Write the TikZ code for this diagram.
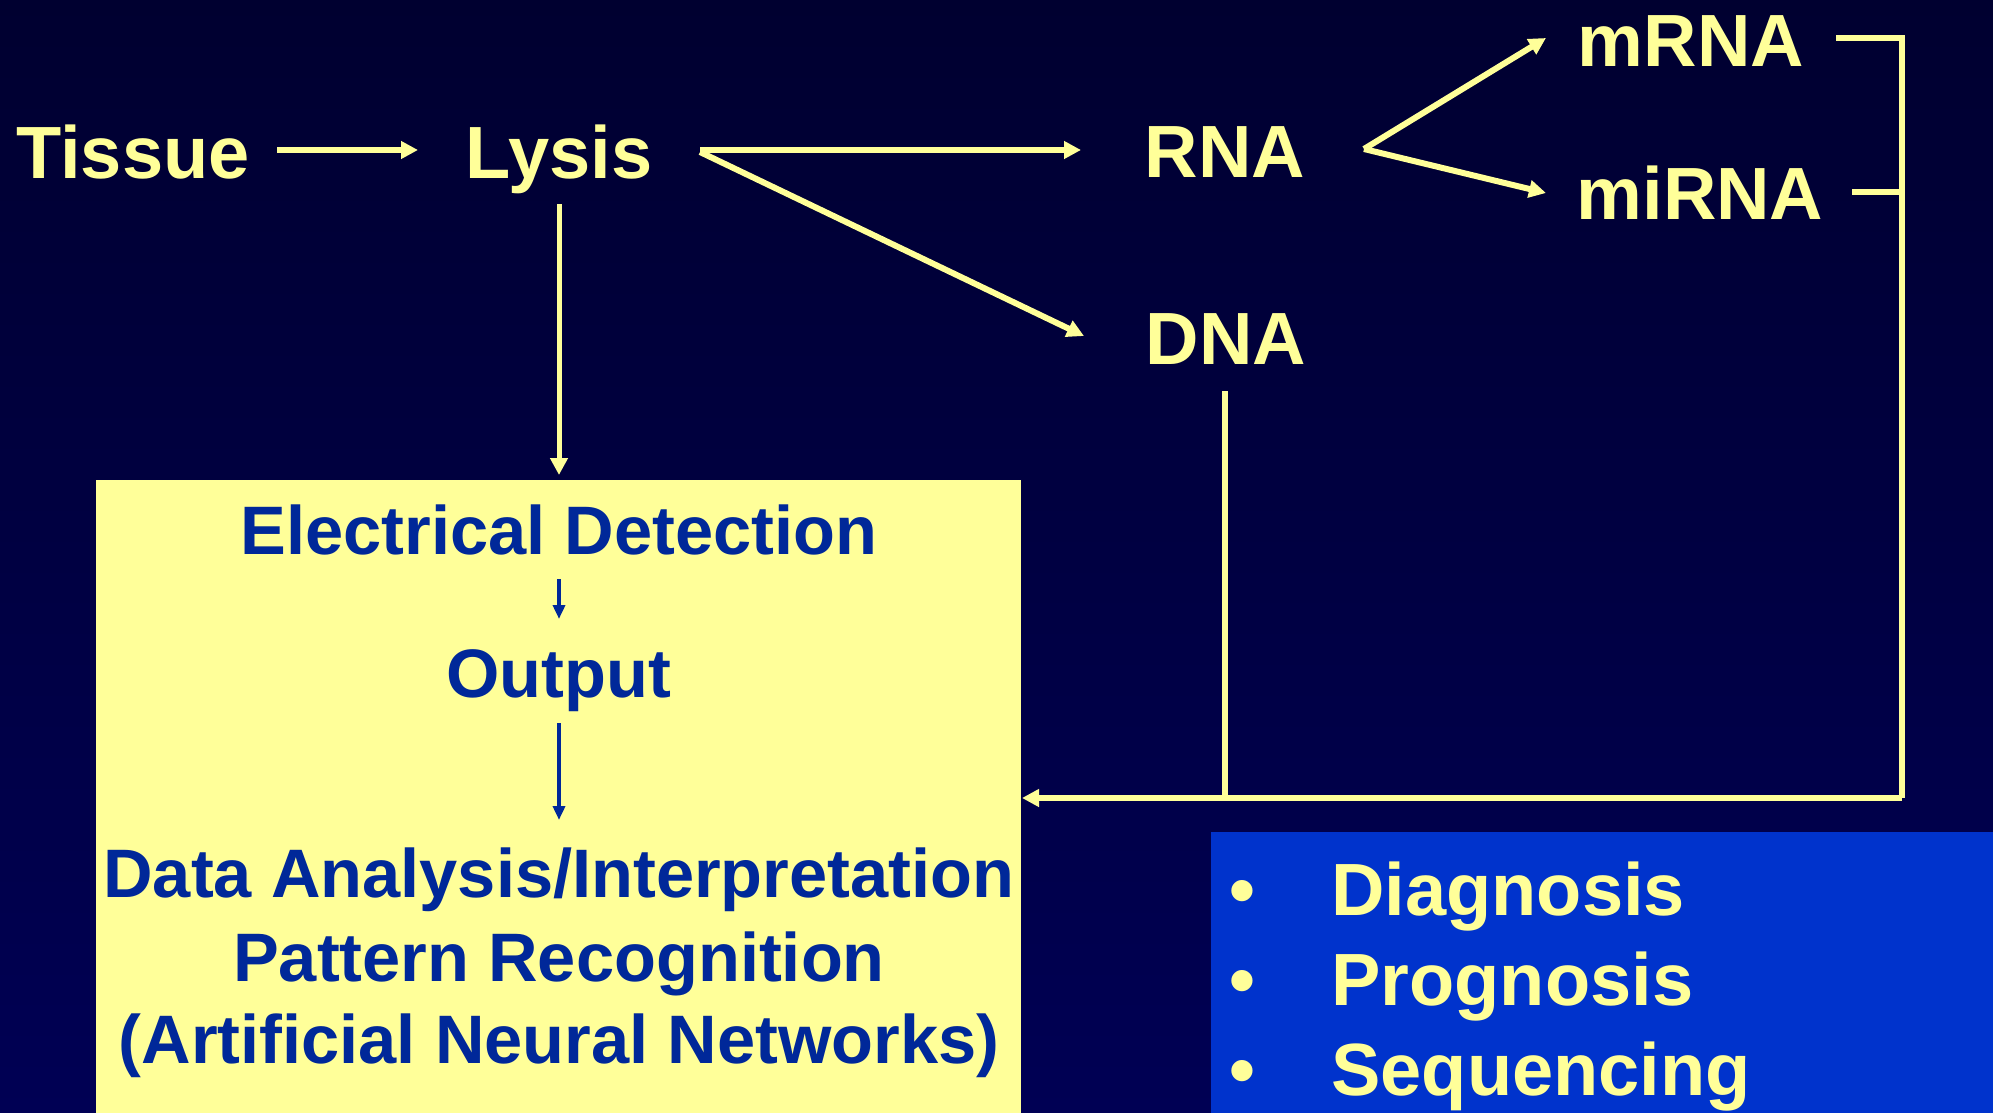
\documentclass[tikz,border=0pt]{standalone}
\usepackage{fontspec}
\setmainfont{Liberation Sans}
\usetikzlibrary{arrows.meta}
\definecolor{bgtop}{RGB}{0,0,48}
\definecolor{bgbot}{RGB}{0,0,84}
\definecolor{lyellow}{RGB}{255,255,153}
\definecolor{dblue}{RGB}{0,40,153}
\definecolor{bbox}{RGB}{0,51,204}
\tikzset{
  lbl/.style={text=lyellow, font=\fontsize{37}{44}\selectfont\bfseries, anchor=base, inner sep=0pt},
  boxtxt/.style={text=dblue, font=\fontsize{34.3}{40}\selectfont\bfseries, anchor=base, inner sep=0pt},
  bul/.style={text=lyellow, font=\fontsize{37}{44}\selectfont\bfseries, anchor=base west, inner sep=0pt},
  yline/.style={draw=lyellow, line width=3pt},
  yarrow/.style={yline, -{Triangle[length=8.5pt,width=8.5pt]}},
  barrow/.style={draw=dblue, line width=2pt, -{Triangle[length=7pt,width=6pt]}},
}
\begin{document}
\begin{tikzpicture}[x=0.5pt,y=-0.5pt]
\useasboundingbox (0,0) rectangle (1993,1113);
\shade[top color=bgtop, bottom color=bgbot] (0,0) rectangle (1993,1113);
% boxes
\fill[lyellow] (96,480) rectangle (1021,1113);
\fill[bbox] (1211,832) rectangle (1993,1113);
% top labels
\node[lbl] (tissue) at (133,178) {Tissue};
\node[lbl] (lysis) at (559,178) {Lysis};
\node[lbl] (rna) at (1225,177) {RNA};
\node[lbl] (dna) at (1226,364) {DNA};
\node[lbl] (mrna) at (1691,67) {mRNA};
\node[lbl] (mirna) at (1700,220) {miRNA};
% box texts
\node[boxtxt] (elec) at (559,554) {Electrical Detection};
\node[boxtxt] (output) at (559,697) {Output};
\node[boxtxt] (data) at (559,897) {Data Analysis/Interpretation};
\node[boxtxt] (pattern) at (559,981) {Pattern Recognition};
\node[boxtxt] (ann) at (559,1063) {(Artificial Neural Networks)};
% bullets
\node[bul] (b1) at (1229,915) {•};
\node[bul] (diag) at (1331,915) {Diagnosis};
\node[bul] (b2) at (1229,1005) {•};
\node[bul] (prog) at (1331,1005) {Prognosis};
\node[bul] (b3) at (1229,1095) {•};
\node[bul] (seq) at (1331,1095) {Sequencing};
% coordinates
\coordinate (tisOut) at (277,150);
\coordinate (lysIn) at (418,150);
\coordinate (lysR) at (700,150);
\coordinate (lysD) at (700,152);
\coordinate (rnaIn) at (1081,150);
\coordinate (dnaIn) at (1084,336);
\coordinate (rnaOut) at (1364,149);
\coordinate (mrnaIn) at (1546,38);
\coordinate (mirnaIn) at (1546,193);
\coordinate (lysDown) at (559,204);
\coordinate (boxTop) at (559,475);
\coordinate (mrnaOut) at (1836,38);
\coordinate (mirnaOut) at (1852,192);
\coordinate (brTop) at (1902,38);
\coordinate (brMid) at (1902,192);
\coordinate (brBot) at (1902,798);
\coordinate (dnaOut) at (1225,391);
\coordinate (dnaJoin) at (1225,798);
\coordinate (boxRight) at (1022,798);
\coordinate (elecOut) at (559,579);
\coordinate (outIn) at (559,619);
\coordinate (outOut) at (559,723);
\coordinate (dataIn) at (559,820);
% connectors
\draw[yarrow] (tisOut) -- (lysIn);
\draw[yarrow] (lysR) -- (rnaIn);
\draw[yarrow] (lysD) -- (dnaIn);
\draw[yarrow] (rnaOut) -- (mrnaIn);
\draw[yarrow] (rnaOut) -- (mirnaIn);
\draw[yarrow, line width=2.5pt] (lysDown) -- (boxTop);
\draw[yline] (mrnaOut) -- (brTop) -- (brBot);
\draw[yline] (mirnaOut) -- (brMid);
\draw[yline] (dnaOut) -- (dnaJoin);
\draw[yarrow] (brBot) -- (boxRight);
\draw[barrow] (elecOut) -- (outIn);
\draw[barrow] (outOut) -- (dataIn);
\end{tikzpicture}
\end{document}
